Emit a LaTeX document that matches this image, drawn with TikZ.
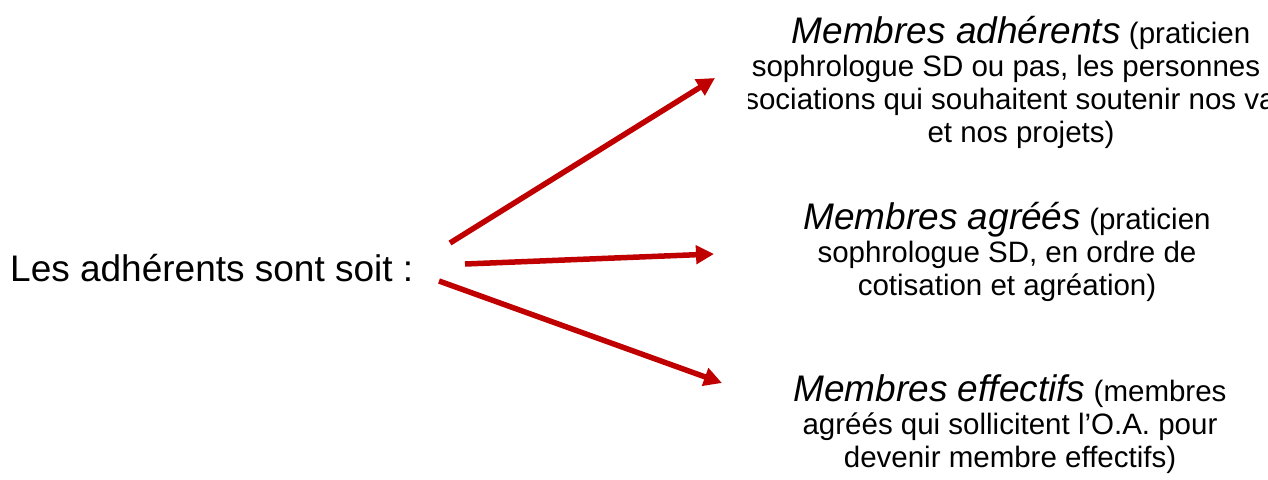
\documentclass[tikz,border=0pt]{standalone}
\usepackage{fontspec}
\setmainfont{Liberation Sans}
\usetikzlibrary{arrows.meta}
\definecolor{arrowred}{HTML}{C00000}
\newcommand{\ital}[1]{{\fontsize{37}{33}\selectfont\itshape #1}}
\newcommand{\padr}[1]{\rule{#1}{0pt}}
\begin{document}
\begin{tikzpicture}[x=1pt,y=-1pt,
  arr/.style={draw=arrowred, line width=5.5pt, -{Triangle[length=18pt,width=18pt]}},
  big/.style={font=\fontsize{37}{44}\selectfont, inner sep=0pt},
  block/.style={align=center, font=\fontsize{29.5}{33}\selectfont, inner sep=0pt, anchor=base}]
\useasboundingbox (0,0) rectangle (1268,479);
\fill[white] (0,0) rectangle (1268,479);

\node[big, anchor=base west] (src) at (10,281) {Les adhérents sont soit :};

\begin{scope}
\clip (748,0) rectangle (1268,479);
\node[block] (adh) at (1021,142) {\ital{Membres adhérents} (praticien\\sophrologue SD ou pas, les personnes\padr{30pt}\\sociations qui souhaitent soutenir nos va\padr{22pt}\\et nos projets)};
\end{scope}

\node[block] (agr) at (1007,295) {\ital{Membres agréés} (praticien\\sophrologue SD, en ordre de\\cotisation et agréation)};

\node[block] (eff) at (1010,467) {\ital{Membres effectifs} (membres\\agréés qui sollicitent l’O.A. pour\\devenir membre effectifs)};

\coordinate (s1) at (450,243);
\coordinate (e1) at (715,78);
\coordinate (s2) at (465,264);
\coordinate (e2) at (714,254);
\coordinate (s3) at (439,281);
\coordinate (e3) at (722,383);

\draw[arr] (s1) -- (e1);
\draw[arr] (s2) -- (e2);
\draw[arr] (s3) -- (e3);
\end{tikzpicture}
\end{document}
